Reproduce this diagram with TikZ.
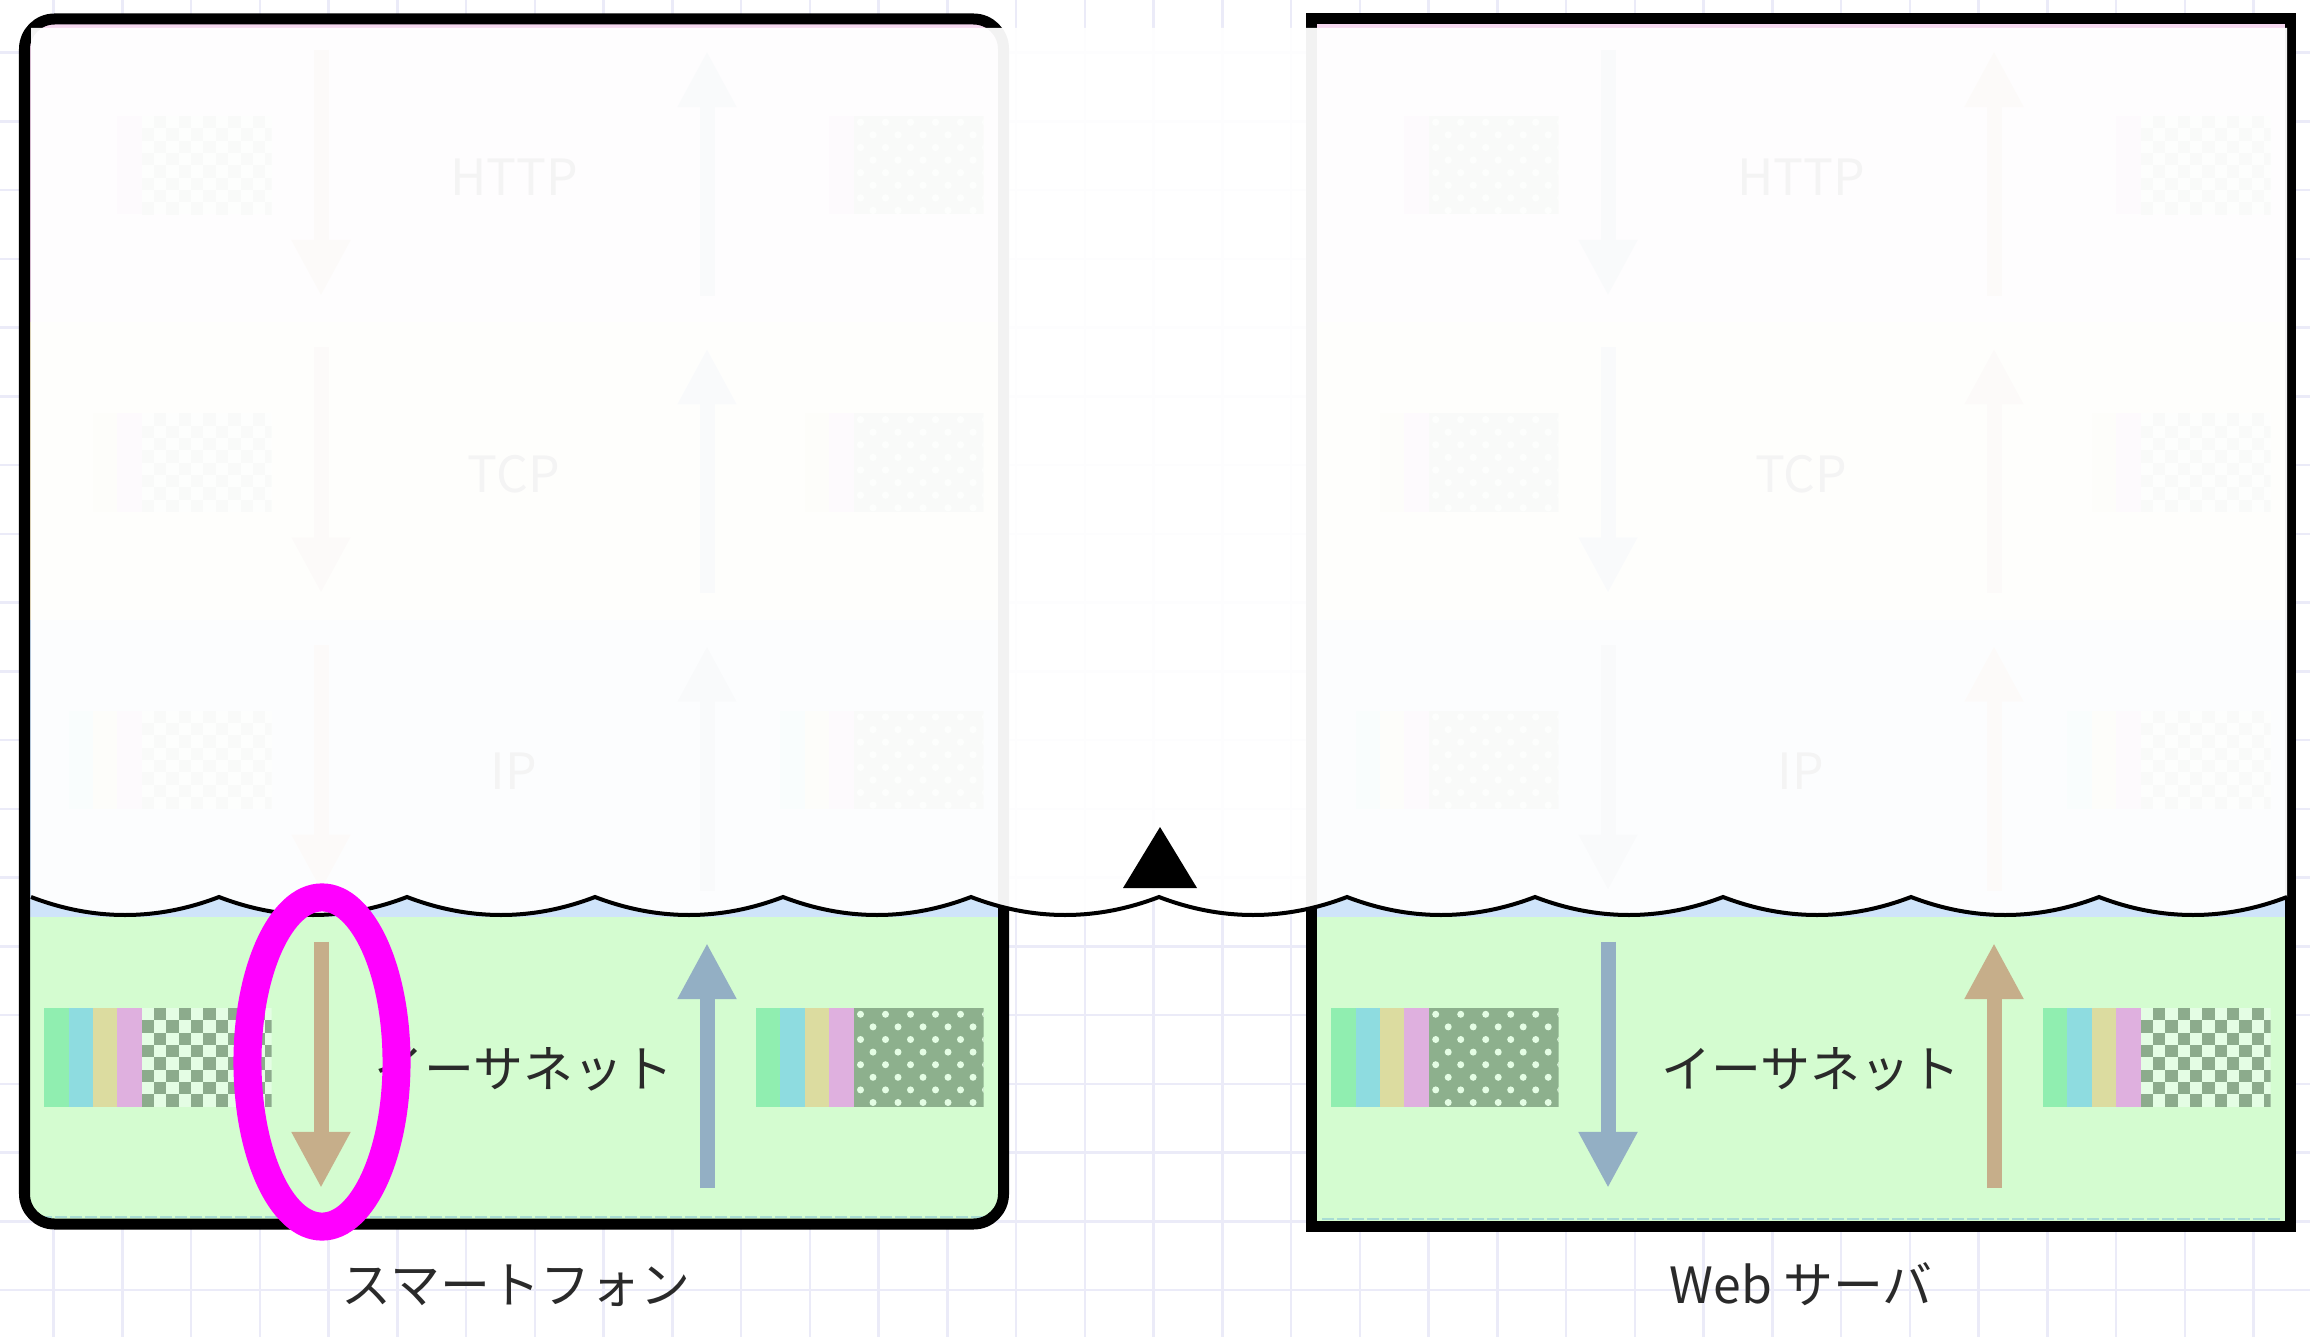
\documentclass[tikz,border=0pt]{standalone}
\usepackage{fontspec}
\newfontfamily\jp{Noto Sans CJK JP}
\usetikzlibrary{arrows.meta}
\definecolor{gridc}{HTML}{EBEBF8}
\definecolor{textc}{HTML}{2A2A2A}
\definecolor{tanc}{HTML}{C6AE8A}
\definecolor{bluec}{HTML}{93AFC4}
\definecolor{stgreen}{HTML}{90EEB0}
\definecolor{stcyan}{HTML}{8EDCE0}
\definecolor{styellow}{HTML}{DCDCA0}
\definecolor{stpink}{HTML}{DFB0DF}
\definecolor{chkdark}{HTML}{8CAB8C}
\definecolor{chklight}{HTML}{E4FDE4}
\definecolor{dotbg}{HTML}{8DB08D}
\definecolor{dotc}{HTML}{E4FDE4}
\definecolor{httpc}{HTML}{F6D8F0}
\definecolor{tcpc}{HTML}{FBF0D2}
\definecolor{ipc}{HTML}{CFE4FA}
\definecolor{ethc}{HTML}{D4FCD0}
\definecolor{tealc}{HTML}{A8DCD4}
\definecolor{magc}{HTML}{FF00FF}
\tikzset{
  lbl/.style={font=\jp\fontsize{14.2pt}{17pt}\selectfont, text=textc, inner sep=0pt},
  frame/.style={line width=0.11cm, draw=black},
  flowarrow/.style={line width=0.15cm, -{Triangle[length=0.56cm,width=0.55cm]}},
  gridline/.style={draw=gridc, line width=0.025cm},
}
\newcommand\checkerpat[2]{%
  \begin{scope}
    \clip (#1,#2) rectangle ++(130,98.5);
    \fill[chklight] (#1,#2) rectangle ++(130,98.5);
    \foreach \r in {0,2,4,6}{\foreach \c in {1,3,5,7,9}{%
      \fill[chkdark] ({#1+\c*12.35},{#2+\r*12.35}) rectangle ++(12.35,12.35);}}
    \foreach \r in {1,3,5,7}{\foreach \c in {0,2,4,6,8,10}{%
      \fill[chkdark] ({#1+\c*12.35},{#2+\r*12.35}) rectangle ++(12.35,12.35);}}
  \end{scope}}
\newcommand\dotspat[2]{%
  \begin{scope}
    \clip (#1,#2) rectangle ++(130,98.5);
    \fill[dotbg] (#1,#2) rectangle ++(130,98.5);
    \foreach \r in {0,...,7}{\foreach \c in {0,...,5}{%
      \fill[dotc] ({#1+7+25*\c+12.5*mod(\r,2)},{#2+6.3+12.6*\r}) circle (0.035cm);}}
  \end{scope}}
\newcommand\packet[4]{%
  \foreach \k/\col in {1/stpink,2/styellow,3/stcyan,4/stgreen}{%
    \ifnum\k>#3\relax\else
      \fill[\col] ({#1-24.4*\k},#2) rectangle ++(24.4,98.5);
    \fi}%
  #4{#1}{#2}}
\newcommand\boxcontents[6]{%
  \foreach \i/\name/\ns/\tx in {0/HTTP/1/514,1/TCP/2/514,2/IP/3/514,3/イーサネット/4/524}{%
    \pgfmathsetmacro\t{25+297.33*\i}%
    \pgfmathsetmacro\py{\t+91}%
    \pgfmathsetmacro\lx{#1+141.7}%
    \pgfmathsetmacro\rx{#1+853.5}%
    \packet{\lx}{\py}{\ns}{#4}%
    \packet{\rx}{\py}{\ns}{#5}%
    \coordinate (dn#6\i-s) at ({#1+321},{\t+25});
    \coordinate (dn#6\i-e) at ({#1+321},{\t+271});
    \coordinate (up#6\i-s) at ({#1+707},{\t+271});
    \coordinate (up#6\i-e) at ({#1+707},{\t+26});
    \draw[flowarrow, draw=#2] (dn#6\i-s) -- (dn#6\i-e);
    \draw[flowarrow, draw=#3] (up#6\i-s) -- (up#6\i-e);
    \node[lbl] (lay#6\i) at ({#1+\tx},{\t+152}) {\name};
  }}
\begin{document}
\begin{tikzpicture}[x=0.01cm,y=-0.01cm]
\useasboundingbox (0,0) rectangle (2310,1337);
\fill[white] (0,0) rectangle (2310,1337);
% grid
\foreach \i in {0,...,32} \draw[gridline] ({53.5+68.75*\i},0) -- ({53.5+68.75*\i},1337);
\foreach \j in {0,...,18} \draw[gridline] (0,{52.7+68.75*\j}) -- (2310,{52.7+68.75*\j});
% left box layers
\begin{scope}
  \clip[rounded corners=0.3cm] (24.5,19) rectangle (1003.5,1224);
  \fill[httpc] (0,0) rectangle (1010,322);
  \fill[tcpc] (0,322) rectangle (1010,619.5);
  \fill[ipc] (0,619.5) rectangle (1010,917);
  \fill[ethc] (0,917) rectangle (1010,1230);
\end{scope}
% right box layers
\fill[httpc] (1311.5,19) rectangle (2290.5,322);
\fill[tcpc] (1311.5,322) rectangle (2290.5,619.5);
\fill[ipc] (1311.5,619.5) rectangle (2290.5,917);
\fill[ethc] (1311.5,917) rectangle (2290.5,1226);
\draw[tealc, line width=0.02cm, dash pattern=on 0.12cm off 0.03cm] (40,1216.5) -- (990,1216.5);
\draw[tealc, line width=0.02cm, dash pattern=on 0.12cm off 0.03cm] (1322,1219) -- (2282,1219);
\boxcontents{0}{tanc}{bluec}{\checkerpat}{\dotspat}{L}
\boxcontents{1287}{bluec}{tanc}{\dotspat}{\checkerpat}{R}
% frames
\draw[frame, rounded corners=0.3cm] (24.5,19) rectangle (1003.5,1224);
\draw[frame] (1311.5,19) rectangle (2290.5,1226);
% overlay curtain
\fill[white, fill opacity=0.95] (31,28) -- (2287,28) -- (2287,897)
  \foreach \k in {11,...,0}{ .. controls ({31+188*\k+125.3},921) and ({31+188*\k+62.7},921) .. ({31+188*\k},897) } -- cycle;
\draw[line width=0.04cm] (31,897)
  \foreach \k in {0,...,11}{ .. controls ({31+188*\k+62.7},921) and ({31+188*\k+125.3},921) .. ({31+188*(\k+1)},897) };
% marker triangle
\fill (1123,888) -- (1197,888) -- (1160,827) -- cycle;
% labels
\node[lbl] (phone) at (516,1286) {スマートフォン};
\node[lbl] (server) at (1801,1284) {Web サーバ};
% highlight
\draw[magc, line width=0.28cm] (322,1062) ellipse [x radius=0.745cm, y radius=1.645cm];
\end{tikzpicture}
\end{document}
